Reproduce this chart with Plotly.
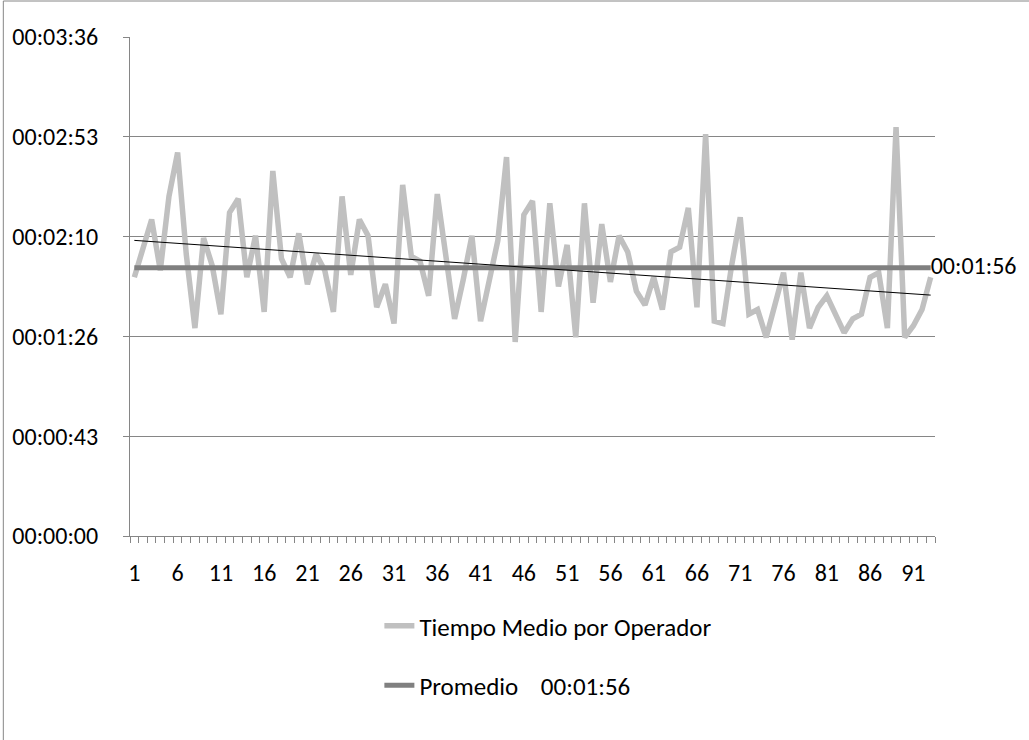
import numpy as np
import plotly.graph_objects as go

# Operator index (categories)
operators = list(range(1, 94))

# Average time per operator, in seconds
tiempo_medio_s = [
    112, 125, 137, 115, 147, 166, 122, 90, 129, 117,
    96, 140, 146, 112, 130, 97, 158, 120, 112, 131,
    109, 122, 115, 97, 147, 113, 137, 130, 99, 109,
    92, 152, 121, 119, 104, 148, 121, 94, 111, 130,
    93, 111, 128, 164, 84, 139, 145, 97, 144, 108,
    126, 86, 144, 101, 135, 110, 130, 123, 106, 100,
    112, 98, 123, 125, 142, 99, 174, 93, 92, 117,
    138, 96, 98, 86, 100, 114, 85, 114, 90, 99,
    104, 96, 88, 94, 96, 112, 114, 90, 177, 86,
    91, 98, 112,
]

y_tick_vals = [0, 43.2, 86.4, 129.6, 172.8, 216]
y_tick_text = ["00:00:00", "00:00:43", "00:01:26", "00:02:10", "00:02:53", "00:03:36"]
x_tick_vals = [1, 6, 11, 16, 21, 26, 31, 36, 41, 46, 51, 56, 61, 66, 71, 76, 81, 86, 91]

series_name = "Tiempo Medio por Operador"
avg_name = "Promedio"


def hms(sec):
    s = int(round(sec))
    return f"{s // 3600:02d}:{(s % 3600) // 60:02d}:{s % 60:02d}"


x = np.array(operators, dtype=float)
y = np.array(tiempo_medio_s, dtype=float)
mean_val = float(y.mean())
avg_vals = [mean_val] * len(operators)
slope, intercept = np.polyfit(x, y, 1)
trend_vals = slope * x + intercept

FONT = "Carlito, Calibri, Lato, sans-serif"
GRID = "#868686"

fig = go.Figure()

fig.add_trace(go.Scatter(
    x=operators, y=tiempo_medio_s, mode="lines", name=series_name,
    line=dict(color="#c0c0c0", width=5.5), legendgroup="a",
    hoverinfo="x+y",
))

avg_text = [""] * (len(operators) - 1) + [hms(mean_val)]
fig.add_trace(go.Scatter(
    x=operators, y=avg_vals, mode="lines+text", name=f"{avg_name}    {hms(mean_val)}",
    line=dict(color="#808080", width=5), legendgroup="b",
    text=avg_text, textposition="middle right",
    textfont=dict(family=FONT, size=24, color="#000000"), cliponaxis=False,
))

fig.add_trace(go.Scatter(
    x=operators, y=trend_vals, mode="lines", name="Lineal",
    line=dict(color="#000000", width=1), showlegend=False,
))

plot_w = 1029 - 128 - 94
plot_h = 740 - 37 - 204

fig.update_layout(
    width=1029, height=740,
    margin=dict(l=128, r=94, t=37, b=204),
    paper_bgcolor="white", plot_bgcolor="white",
    font=dict(family=FONT, size=24, color="#000000"),
    showlegend=True,
    legend=dict(
        x=(378 - 128) / plot_w, xanchor="left",
        y=(536 - 603) / plot_h, yanchor="top",
        tracegroupgap=24, font=dict(size=25),
        bgcolor="rgba(0,0,0,0)",
    ),
    xaxis=dict(
        range=[0.5, 93.5], tickmode="array", tickvals=x_tick_vals,
        ticks="", showgrid=False, zeroline=False,
        showline=True, linecolor=GRID, linewidth=1,
        ticklabelstandoff=15,
        minor=dict(tickmode="array", tickvals=[v + 0.5 for v in range(0, 94)],
                   ticks="outside", ticklen=6, tickcolor=GRID, showgrid=False),
    ),
    yaxis=dict(
        range=[0, 216], tickmode="array", tickvals=y_tick_vals, ticktext=y_tick_text,
        ticks="outside", ticklen=6, tickcolor=GRID,
        showgrid=True, gridcolor=GRID, gridwidth=1, zeroline=False,
        showline=True, linecolor=GRID, linewidth=1,
        ticklabelstandoff=20,
    ),
    shapes=[dict(
        type="rect", xref="paper", yref="paper",
        x0=(1 - 128) / plot_w, x1=(1040 - 128) / plot_w,
        y0=(536 - 750) / plot_h, y1=(536 - 1) / plot_h,
        line=dict(color=GRID, width=1), fillcolor="rgba(0,0,0,0)", layer="below",
    )],
)

fig.write_html(
    "out.html",
    config={"displayModeBar": False},
    post_script="document.body.style.margin='0';document.body.style.overflow='hidden';",
)
